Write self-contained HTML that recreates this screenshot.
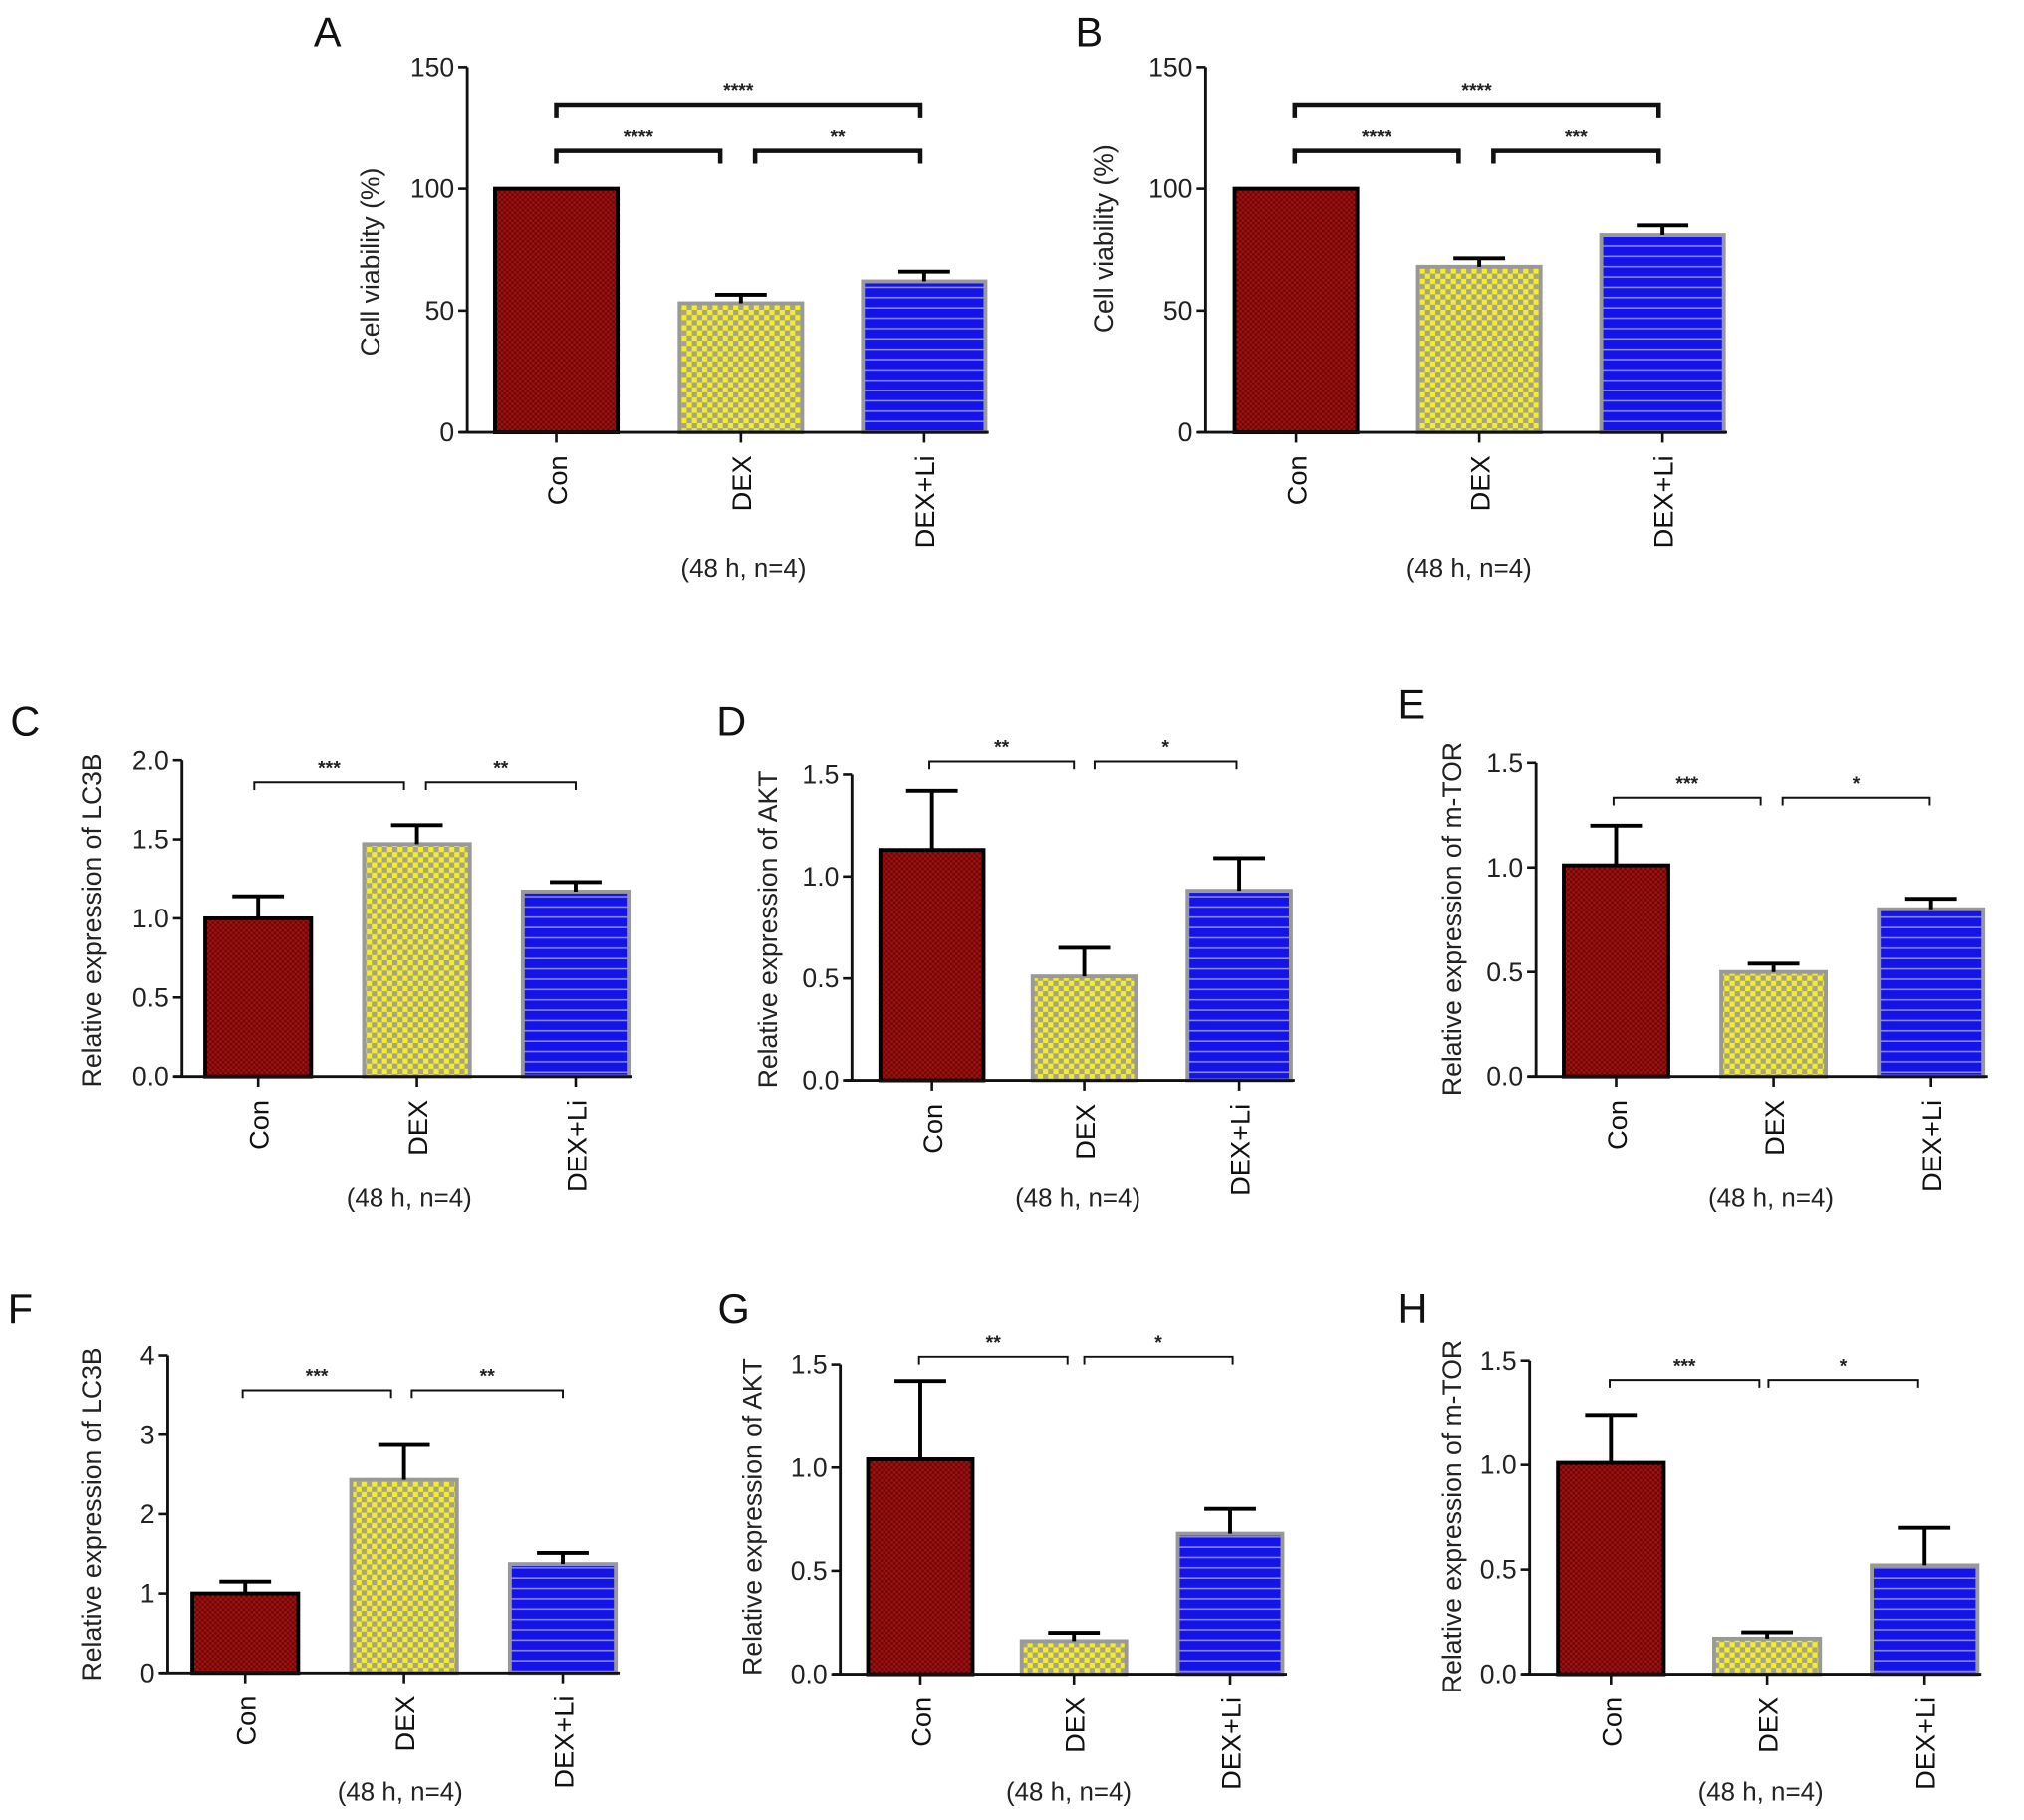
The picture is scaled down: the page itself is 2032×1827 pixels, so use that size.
<!DOCTYPE html>
<html><head><meta charset="utf-8">
<style>
html,body{margin:0;padding:0;background:#fff;}
svg{display:block;font-family:"Liberation Sans",Arial,sans-serif;}
</style></head>
<body>
<svg id="fig" width="2032" height="1827" viewBox="0 0 1568 1410" preserveAspectRatio="none" xmlns="http://www.w3.org/2000/svg">
<defs>
<pattern id="pCon" width="4" height="4" patternUnits="userSpaceOnUse">
<rect width="4" height="4" fill="#6e0606"/><rect width="2" height="2" fill="#a01212"/><rect x="2" y="2" width="2" height="2" fill="#a01212"/>
</pattern>
<pattern id="pDex" width="8" height="8" patternUnits="userSpaceOnUse">
<rect width="8" height="8" fill="#f2f020"/><rect width="4" height="4" fill="#a8a090"/><rect x="4" y="4" width="4" height="4" fill="#a8a090"/>
</pattern>
<pattern id="pLi" width="8" height="8" patternUnits="userSpaceOnUse">
<rect width="8" height="8" fill="#1414e8"/><rect y="6" width="8" height="1.2" fill="#8a8ae8"/>
</pattern>
</defs>
</svg>
<script>
// Shared categories
const categories = ["Con", "DEX", "DEX+Li"];
// Panel A
const valuesA = [100, 53, 62];
const errorsA = [0, 3.5, 4];
const ticksA = [0, 50, 100, 150];
// Panel B
const valuesB = [100, 68, 81];
const errorsB = [0, 3.5, 4];
const ticksB = [0, 50, 100, 150];
// Panel C
const valuesC = [1.0, 1.47, 1.17];
const errorsC = [0.14, 0.12, 0.06];
const ticksC = ["0.0", "0.5", "1.0", "1.5", "2.0"];
// Panel D
const valuesD = [1.13, 0.51, 0.93];
const errorsD = [0.29, 0.14, 0.16];
const ticksD = ["0.0", "0.5", "1.0", "1.5"];
// Panel E
const valuesE = [1.01, 0.5, 0.8];
const errorsE = [0.19, 0.04, 0.05];
const ticksE = ["0.0", "0.5", "1.0", "1.5"];
// Panel F
const valuesF = [1.0, 2.43, 1.37];
const errorsF = [0.15, 0.44, 0.14];
const ticksF = ["0", "1", "2", "3", "4"];
// Panel G
const valuesG = [1.04, 0.16, 0.68];
const errorsG = [0.38, 0.04, 0.12];
const ticksG = ["0.0", "0.5", "1.0", "1.5"];
// Panel H
const valuesH = [1.01, 0.17, 0.52];
const errorsH = [0.23, 0.03, 0.18];
const ticksH = ["0.0", "0.5", "1.0", "1.5"];
const sigA = ["****", "****", "**"];
const sigB = ["****", "****", "***"];
const sigC = ["***", "**"];
const sigD = ["**", "*"];
const sigE = ["***", "*"];
const sigF = ["***", "**"];
const sigG = ["**", "*"];
const sigH = ["***", "*"];

const svg = document.getElementById('fig');
const NS = "http://www.w3.org/2000/svg";
function mk(tag, attrs, parent){
  const e = document.createElementNS(NS, tag);
  for (const k in attrs) e.setAttribute(k, attrs[k]);
  (parent||svg).appendChild(e);
  return e;
}
const fills = ["url(#pCon)", "url(#pDex)", "url(#pLi)"];
const strokes = ["#000", "#999", "#999"];

const panels = [
 {id:"a", letter:"A", lx:243, ly:36, ax:362, y0:335, yTop:52, max:150, xs:[431,574,716], bw:95, xEnd:766, ylab:"Cell viability (%)", ylx:296, yly:203, sub:[576,447], v:valuesA, e:errorsA, t:ticksA, sig:sigA, thick:true, bry:[81,117], brx:[[431,713],[431,558],[585,713]]},
 {id:"b", letter:"B", lx:833, ly:36, ax:934, y0:335, yTop:52, max:150, xs:[1004,1146,1288], bw:95, xEnd:1338, ylab:"Cell viability (%)", ylx:864, yly:185, sub:[1138,447], v:valuesB, e:errorsB, t:ticksB, sig:sigB, thick:true, bry:[81,117], brx:[[1003,1285],[1003,1130],[1157,1285]]},
 {id:"c", letter:"C", lx:8, ly:570, ax:141, y0:834, yTop:589, max:2, xs:[200,323,446], bw:82, xEnd:490, ylab:"Relative expression of LC3B", ylx:80, yly:713, sub:[317,935], v:valuesC, e:errorsC, t:ticksC, sig:sigC, bry:[606], brx:[[197,313],[330,446]]},
 {id:"d", letter:"D", lx:555, ly:570, ax:660, y0:837, yTop:600, max:1.5, xs:[722,840,960], bw:80, xEnd:1003, ylab:"Relative expression of AKT", ylx:604, yly:720, sub:[835,935], v:valuesD, e:errorsD, t:ticksD, sig:sigD, bry:[590], brx:[[720,832],[848,958]]},
 {id:"e", letter:"E", lx:1083, ly:557, ax:1190, y0:834, yTop:591, max:1.5, xs:[1252,1374,1496], bw:81, xEnd:1540, ylab:"Relative expression of m-TOR", ylx:1134, yly:712, sub:[1372,935], v:valuesE, e:errorsE, t:ticksE, sig:sigE, bry:[618], brx:[[1250,1364],[1381,1495]]},
 {id:"f", letter:"F", lx:6, ly:1025, ax:130, y0:1296, yTop:1050, max:4, xs:[190,313,436], bw:82, xEnd:480, ylab:"Relative expression of LC3B", ylx:80, yly:1173, sub:[310,1395], v:valuesF, e:errorsF, t:ticksF, sig:sigF, bry:[1077], brx:[[188,303],[319,436]]},
 {id:"g", letter:"G", lx:556, ly:1025, ax:651, y0:1297, yTop:1057, max:1.5, xs:[713,832,953], bw:81, xEnd:997, ylab:"Relative expression of AKT", ylx:592, yly:1175, sub:[828,1395], v:valuesG, e:errorsG, t:ticksG, sig:sigG, bry:[1051], brx:[[712,827],[840,955]]},
 {id:"h", letter:"H", lx:1083, ly:1025, ax:1185, y0:1297, yTop:1054, max:1.5, xs:[1248,1369,1491], bw:82, xEnd:1535, ylab:"Relative expression of m-TOR", ylx:1134, yly:1175, sub:[1364,1395], v:valuesH, e:errorsH, t:ticksH, sig:sigH, bry:[1069], brx:[[1247,1363],[1370,1486]]}
];

panels.forEach(p => {
  const g = mk('g', {});
  
  
  const yS = v => p.y0 - (v / p.max) * (p.y0 - p.yTop);
  const lt = mk('text', {x:p.lx, y:p.ly, 'font-size':32, fill:'#111'}, g);
  lt.textContent = p.letter;
  
  
  p.v.forEach((val, i) => {
    const x = p.xs[i] - p.bw/2;
    const r = mk('rect', {x:x, y:yS(val), width:p.bw, height:p.y0 - yS(val), fill:fills[i], stroke:strokes[i], 'stroke-width':3}, g);
    
    
    if (p.e[i] > 0) {
      const top = yS(val + p.e[i]);
      const el = mk('path', {d:`M${p.xs[i]} ${yS(val)} V${top} M${p.xs[i]-20} ${top} H${p.xs[i]+20}`, stroke:'#000', 'stroke-width':3, fill:'none'}, g);
      
      
    }
  });
  const ax = mk('path', {d:`M${p.ax} ${p.yTop} V${p.y0} M${p.ax-6} ${p.y0} H${p.xEnd}`, stroke:'#111', 'stroke-width':2.2, fill:'none'}, g);
  
  
  p.t.forEach(t => {
    const y = yS(parseFloat(t));
    mk('line', {x1:p.ax-7, x2:p.ax, y1:y, y2:y, stroke:'#111', 'stroke-width':2}, g);
    const tx = mk('text', {x:p.ax-10, y:y+7, 'font-size':20.5, 'text-anchor':'end', fill:'#222'}, g);
    tx.textContent = t;
    
    
  });
  p.xs.forEach((x, i) => {
    mk('line', {x1:x, x2:x, y1:p.y0, y2:p.y0+8, stroke:'#111', 'stroke-width':2}, g);
    const tx = mk('text', {x:0, y:0, 'font-size':21, 'text-anchor':'end', fill:'#111', transform:`translate(${x+8},${p.y0+18}) rotate(-90)`}, g);
    tx.textContent = categories[i];
    
    
  });
  const yl = mk('text', {x:0, y:0, 'font-size':20.5, 'text-anchor':'middle', fill:'#222', transform:`translate(${p.ylx-2},${p.yly}) rotate(-90)`}, g);
  yl.textContent = p.ylab;
  
  
  const sb = mk('text', {x:p.sub[0], y:p.sub[1], 'font-size':20, 'text-anchor':'middle', fill:'#222'}, g);
  sb.textContent = "(48 h, n=4)";
  
  
  p.brx.forEach((b, i) => {
    const y = p.thick ? (i === 0 ? p.bry[0] : p.bry[1]) : p.bry[0];
    const drop = p.thick ? 10 : 6;
    const br = mk('path', {d:`M${b[0]} ${y+drop} V${y} H${b[1]} V${y+drop}`, stroke:'#111', 'stroke-width':p.thick?3.5:1.5, fill:'none'}, g);
    
    
    const st = mk('text', {x:(b[0]+b[1])/2, y:y-6, 'font-size':15, 'font-weight':'bold', 'text-anchor':'middle', fill:'#222'}, g);
    st.textContent = p.sig[i];
    
    
  });
});
</script>
</body></html>
